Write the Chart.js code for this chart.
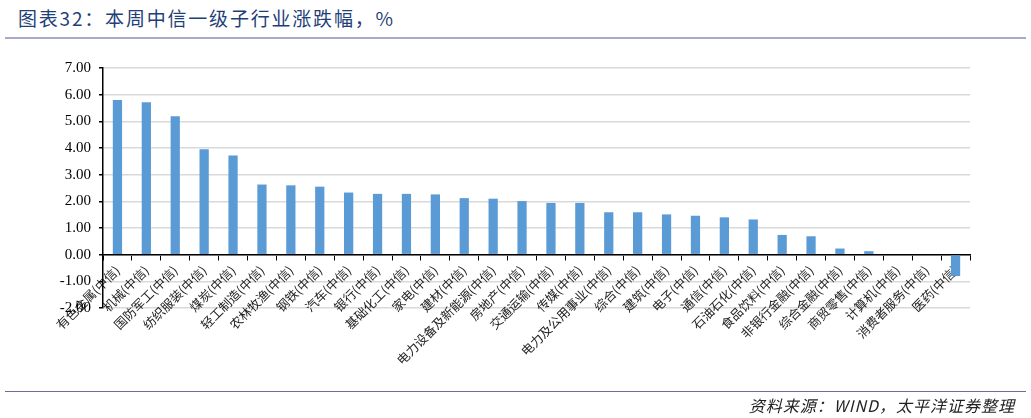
<!DOCTYPE html>
<html>
<head>
<meta charset="utf-8">
<script src="https://cdn.jsdelivr.net/npm/chart.js@4/dist/chart.umd.min.js"></script>
<style>
  body { margin: 0; background: #fff; }
  #wrap { position: relative; width: 1031px; height: 418px; overflow: hidden; }
  #title { position: absolute; left: 18px; top: 4px; font: 19px "Noto Sans CJK SC", sans-serif; color: #1f3f78; letter-spacing: 1.8px; }
  #topLine { position: absolute; left: 5px; top: 37px; width: 1021px; height: 2px; background: #a9a9cc; }
  #bottomLine { position: absolute; left: 5px; top: 391px; width: 1021px; height: 1px; background: #6f6a9a; }
  #source { position: absolute; right: 16px; top: 393px; font: italic 16px "Noto Sans CJK SC", sans-serif; color: #222; letter-spacing: 1px; }
  #chartBox { position: absolute; left: 0; top: 0; width: 1031px; height: 418px; }
</style>
</head>
<body>
<div id="wrap">
  <div id="title">图表32：本周中信一级子行业涨跌幅，%</div>
  <div id="topLine"></div>
  <div id="chartBox"><canvas id="chart" width="1031" height="418"></canvas></div>
  <div id="bottomLine"></div>
  <div id="source">资料来源：WIND，太平洋证券整理</div>
</div>
<script>
  const industries = ['有色金属(中信)', '机械(中信)', '国防军工(中信)', '纺织服装(中信)', '煤炭(中信)',
    '轻工制造(中信)', '农林牧渔(中信)', '钢铁(中信)', '汽车(中信)', '银行(中信)',
    '基础化工(中信)', '家电(中信)', '建材(中信)', '电力设备及新能源(中信)', '房地产(中信)',
    '交通运输(中信)', '传媒(中信)', '电力及公用事业(中信)', '综合(中信)', '建筑(中信)',
    '电子(中信)', '通信(中信)', '石油石化(中信)', '食品饮料(中信)', '非银行金融(中信)',
    '综合金融(中信)', '商贸零售(中信)', '计算机(中信)', '消费者服务(中信)', '医药(中信)'];
  const weeklyChange = [5.80, 5.72, 5.19, 3.95, 3.72,
    2.63, 2.60, 2.55, 2.33, 2.28,
    2.28, 2.26, 2.12, 2.10, 2.01,
    1.94, 1.94, 1.59, 1.59, 1.51,
    1.46, 1.40, 1.32, 0.74, 0.69,
    0.23, 0.13, 0.00, 0.00, -0.80];
  const yMin = -2, yMax = 7, yStep = 1;

  const data = {
    labels: industries,
    datasets: [{
      data: weeklyChange,
      backgroundColor: '#5b9bd5',
      borderWidth: 0,
      categoryPercentage: 1,
      barPercentage: 0.32
    }]
  };

  const options = {
    responsive: false,
    animation: false,
    layout: { padding: { left: 45, top: 68, right: 61, bottom: 110 } },
    plugins: { legend: { display: false }, tooltip: { enabled: false } },
    scales: {
      x: {
        position: { y: 0 },
        grid: { display: true, drawOnChartArea: false, offset: true, tickLength: 5, tickColor: '#000', lineWidth: 1 },
        border: { color: '#000', width: 1.5 },
        ticks: {
          autoSkip: false, maxRotation: 45, minRotation: 45, padding: 3,
          color: '#222', font: { family: '"Noto Sans CJK SC", sans-serif', size: 12.5 }
        },
        afterFit: function(scale) { scale.paddingLeft = 0; scale.paddingRight = 0; }
      },
      y: {
        min: yMin, max: yMax,
        grid: { color: '#d9d9d9', lineWidth: 1.5, tickLength: 4, tickColor: '#000' },
        border: { color: '#000', width: 1.5 },
        ticks: {
          stepSize: yStep, padding: 8, color: '#000',
          font: { family: '"Liberation Serif", serif', size: 15 },
          callback: v => v.toFixed(2)
        },
        afterFit: function(scale) { scale.width = 58; }
      }
    }
  };

  new Chart(document.getElementById('chart').getContext('2d'), {
    type: 'bar',
    data: data,
    options: options
  });
</script>
</body>
</html>
